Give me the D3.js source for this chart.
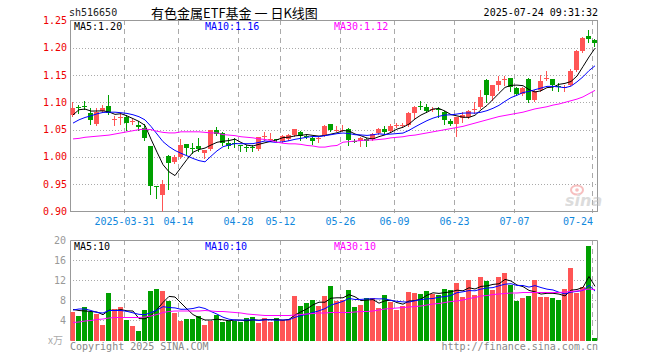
<!DOCTYPE html>
<html><head><meta charset="utf-8">
<script src="https://cdn.jsdelivr.net/npm/d3@7"></script>
<style>
html,body{margin:0;padding:0;background:#fff;}
svg{display:block;}
text{font-family:"DejaVu Sans Mono",monospace;font-size:10px;}
</style></head>
<body>
<svg id="c" width="660" height="360"></svg>
<script>
const dates = ["2025-03-18","2025-03-19","2025-03-20","2025-03-21","2025-03-24","2025-03-25","2025-03-26","2025-03-27","2025-03-28","2025-03-31",
"2025-04-01","2025-04-02","2025-04-03","2025-04-07","2025-04-08","2025-04-09","2025-04-10","2025-04-11","2025-04-14","2025-04-15","2025-04-16","2025-04-17","2025-04-18","2025-04-21","2025-04-22","2025-04-23","2025-04-24","2025-04-25","2025-04-28","2025-04-29","2025-04-30",
"2025-05-06","2025-05-07","2025-05-08","2025-05-09","2025-05-12","2025-05-13","2025-05-14","2025-05-15","2025-05-16","2025-05-19","2025-05-20","2025-05-21","2025-05-22","2025-05-23","2025-05-26","2025-05-27","2025-05-28","2025-05-29","2025-05-30",
"2025-06-03","2025-06-04","2025-06-05","2025-06-06","2025-06-09","2025-06-10","2025-06-11","2025-06-12","2025-06-13","2025-06-16","2025-06-17","2025-06-18","2025-06-19","2025-06-20","2025-06-23","2025-06-24","2025-06-25","2025-06-26","2025-06-27","2025-06-30",
"2025-07-01","2025-07-02","2025-07-03","2025-07-04","2025-07-07","2025-07-08","2025-07-09","2025-07-10","2025-07-11","2025-07-14","2025-07-15","2025-07-16","2025-07-17","2025-07-18","2025-07-21","2025-07-22","2025-07-23","2025-07-24"];

const opens = [1.077,1.092,1.093,1.080,1.061,1.085,1.094,1.069,1.072,1.073,
1.064,1.058,1.053,1.020,0.946,0.931,1.002,0.991,1.000,1.023,1.017,1.020,1.008,1.015,1.050,1.044,1.026,1.026,1.021,1.018,1.019,
1.014,1.038,1.032,1.032,1.029,1.032,1.040,1.046,1.039,1.034,1.033,1.039,1.061,1.049,1.049,1.052,1.030,1.030,1.033,
1.033,1.043,1.051,1.047,1.058,1.058,1.059,1.081,1.094,1.091,1.087,1.087,1.083,1.065,1.061,1.071,1.073,1.087,1.091,1.141,
1.112,1.131,1.141,1.145,1.126,1.116,1.143,1.105,1.122,1.144,1.142,1.130,1.128,1.132,1.159,1.195,1.221,1.215];
const closes = [1.089,1.090,1.092,1.067,1.083,1.090,1.080,1.070,1.073,1.063,
1.065,1.054,1.034,0.947,0.944,0.950,0.989,0.999,1.022,1.017,1.016,1.014,1.012,1.050,1.042,1.026,1.020,1.025,1.020,1.017,1.018,
1.036,1.039,1.033,1.031,1.038,1.040,1.051,1.038,1.038,1.030,1.034,1.057,1.050,1.050,1.050,1.031,1.029,1.034,1.029,
1.042,1.052,1.045,1.057,1.059,1.059,1.081,1.092,1.093,1.085,1.088,1.086,1.068,1.061,1.073,1.076,1.084,1.088,1.110,1.114,
1.131,1.140,1.142,1.129,1.116,1.126,1.104,1.120,1.140,1.145,1.131,1.129,1.129,1.157,1.195,1.218,1.217,1.209];
const highs = [1.100,1.095,1.103,1.089,1.089,1.095,1.113,1.075,1.080,1.077,
1.070,1.065,1.061,1.020,0.947,0.957,1.003,1.004,1.033,1.024,1.025,1.034,1.012,1.050,1.055,1.046,1.034,1.034,1.022,1.021,1.021,
1.037,1.046,1.043,1.033,1.040,1.042,1.052,1.047,1.042,1.037,1.036,1.058,1.061,1.057,1.059,1.053,1.032,1.036,1.034,
1.043,1.053,1.056,1.061,1.062,1.063,1.083,1.093,1.102,1.097,1.092,1.091,1.085,1.069,1.074,1.083,1.086,1.100,1.123,1.142,
1.131,1.148,1.149,1.145,1.128,1.128,1.144,1.122,1.151,1.158,1.143,1.135,1.131,1.161,1.196,1.219,1.232,1.216];
const lows = [1.075,1.081,1.087,1.060,1.059,1.083,1.079,1.059,1.060,1.050,
1.060,1.050,1.031,0.932,0.924,0.900,0.942,0.989,0.998,1.006,1.008,1.010,0.998,1.013,1.040,1.022,1.016,1.018,1.011,1.011,1.011,
1.013,1.031,1.032,1.029,1.027,1.031,1.039,1.031,1.035,1.023,1.028,1.038,1.047,1.047,1.047,1.022,1.027,1.020,1.020,
1.031,1.042,1.043,1.046,1.054,1.054,1.057,1.072,1.087,1.082,1.084,1.073,1.061,1.058,1.039,1.064,1.071,1.080,1.090,1.100,
1.104,1.123,1.131,1.121,1.114,1.114,1.100,1.103,1.120,1.141,1.122,1.121,1.120,1.131,1.157,1.193,1.210,1.204];

const ma5 = [1.077,1.0865,1.0877,1.084,1.0842,1.0844,1.0824,1.078,1.0792,1.0752,1.0702,1.065,1.0578,1.0326,1.0088,0.9858,0.9728,0.9658,0.9808,0.9954,1.0086,1.0136,1.0162,1.0218,1.0268,1.0288,1.030,1.0326,1.0266,1.0216,1.020,1.0232,1.026,1.0286,1.0314,1.0354,1.0362,1.0386,1.0396,1.041,1.0394,1.0382,1.0394,1.0418,1.0442,1.0482,1.0476,1.042,1.0388,1.0346,1.033,1.0372,1.0404,1.045,1.051,1.0544,1.0602,1.0696,1.0768,1.082,1.0878,1.0888,1.084,1.0776,1.0752,1.0728,1.0724,1.0764,1.0862,1.0944,1.1054,1.1166,1.1274,1.1312,1.1316,1.1306,1.1234,1.119,1.1212,1.127,1.128,1.133,1.1348,1.1382,1.1482,1.1656,1.1832,1.1992];
const ma10 = [1.062,1.068,1.0723,1.0754,1.079,1.0815,1.082,1.082,1.081,1.0797,1.0773,1.0737,1.0679,1.0559,1.042,1.028,1.0189,1.0118,1.0067,1.0021,0.9972,0.9932,0.991,1.0013,1.0111,1.0187,1.0218,1.0244,1.0242,1.0242,1.0244,1.0266,1.0293,1.0276,1.0265,1.0277,1.0297,1.0323,1.0341,1.0362,1.0374,1.0372,1.039,1.0407,1.0426,1.0438,1.0429,1.0407,1.0403,1.0394,1.0406,1.0424,1.0412,1.0419,1.0428,1.0437,1.0487,1.055,1.0609,1.0665,1.0711,1.0745,1.0768,1.0772,1.0786,1.0803,1.0806,1.0802,1.0819,1.0848,1.0891,1.0945,1.1019,1.1087,1.113,1.118,1.12,1.1232,1.1262,1.1293,1.1293,1.1282,1.1269,1.1297,1.1376,1.1468,1.1581,1.167];
const ma30 = [1.033,1.034,1.036,1.037,1.038,1.039,1.040,1.042,1.044,1.046,1.048,1.050,1.051,1.050,1.047,1.045,1.044,1.044,1.046,1.046,1.046,1.046,1.045,1.044,1.044,1.041,1.040,1.039,1.037,1.036,1.035,1.033,1.032,1.030,1.027,1.025,1.024,1.024,1.023,1.021,1.020,1.018,1.018,1.020,1.021,1.027,1.028,1.029,1.030,1.031,1.031,1.032,1.033,1.035,1.036,1.037,1.039,1.040,1.042,1.044,1.046,1.048,1.050,1.052,1.054,1.056,1.059,1.062,1.065,1.068,1.071,1.074,1.076,1.078,1.080,1.082,1.085,1.088,1.090,1.092,1.095,1.097,1.100,1.103,1.106,1.110,1.116,1.122];

const volumes = [5.8,4.9,6.7,5.8,5.3,3.1,9.5,6.3,6.7,4.1,2.9,1.9,6.1,9.9,10.3,9.9,7.9,5.5,3.9,4.3,4.3,4.9,3.1,3.9,5.1,3.7,3.9,3.9,3.7,4.5,4.7,3.5,4.5,3.7,4.5,4.1,4.3,8.9,6.9,7.5,8.1,6.9,8.9,10.9,7.9,8.1,10.1,6.7,7.1,8.5,8.5,6.5,9.1,7.7,6.1,6.9,9.7,9.5,9.3,9.9,9.3,9.1,10.3,10.1,11.5,8.7,12.1,9.1,12.7,12.0,10.2,12.7,13.5,11.1,8.0,8.6,8.9,12.1,8.8,8.8,8.6,8.1,10.3,14.5,9.5,10.7,19.0,0.5];
const volMa5 = [6.2,6.0,5.9,5.8,5.70,5.16,6.08,6.00,6.18,5.94,5.90,4.38,4.34,4.98,6.22,7.62,8.82,8.70,7.50,6.30,5.18,4.58,4.10,4.10,4.26,4.14,3.94,4.10,4.06,3.94,4.14,4.06,4.18,4.18,4.18,4.06,4.22,5.10,5.74,6.34,7.14,7.66,7.66,8.46,8.54,8.54,9.18,8.74,7.98,8.10,8.18,7.46,7.94,8.06,7.58,7.26,7.90,7.98,8.30,9.06,9.54,9.42,9.58,9.74,10.06,9.94,10.54,10.30,10.82,10.92,11.22,11.34,12.22,11.90,11.10,10.78,10.02,9.74,9.28,9.44,9.44,9.28,8.92,10.06,10.20,10.62,12.80,10.84];
const volMa10 = [6.1,6.3,6.3,6.0,5.6,5.5,6.0,6.0,6.0,5.82,5.53,5.23,5.17,5.58,6.08,6.76,6.60,6.52,6.24,6.26,6.40,6.70,6.40,5.80,5.28,4.66,4.26,4.10,4.08,4.10,4.14,4.00,4.14,4.12,4.06,4.10,4.14,4.64,4.96,5.26,5.60,5.94,6.38,7.10,7.44,7.84,8.42,8.20,8.22,8.32,8.36,8.32,8.34,8.02,7.84,7.72,7.68,7.96,8.18,8.32,8.40,8.66,8.78,9.02,9.56,9.74,9.98,9.94,10.28,10.49,10.58,10.94,11.26,11.36,11.01,11.00,10.68,10.98,10.59,10.27,10.11,9.65,9.33,9.67,9.82,10.03,11.04,9.88];
const volMa30 = [3.6,3.7,3.9,4.0,4.2,4.3,4.5,4.6,4.6,4.6,4.6,4.6,4.7,4.9,5.2,5.6,5.8,5.9,5.9,5.9,5.9,5.9,6.0,5.9,5.8,5.8,5.7,5.6,5.5,5.3,5.2,5.1,5.0,5.0,5.0,5.0,5.0,5.1,5.2,5.3,5.4,5.5,5.5,5.6,5.6,5.6,5.6,5.7,5.8,5.8,5.9,6.1,6.3,6.4,6.5,6.6,6.7,6.8,6.9,7.1,7.3,7.4,7.6,7.8,7.9,8.1,8.4,8.6,8.9,9.0,9.2,9.3,9.4,9.5,9.5,9.6,9.6,9.6,9.6,9.6,9.6,9.6,9.7,9.8,9.9,10.1,10.3,10.2];

const priceTicks = [0.90,0.95,1.00,1.05,1.10,1.15,1.20,1.25];
const volTicks = [4,8,12,16,20];
const dateTicks = ["2025-03-31","2025-04-14","2025-04-28","2025-05-12","2025-05-26","2025-06-09","2025-06-23","2025-07-07","2025-07-24"];
const dateTickLabels = ["2025-03-31","04-14","04-28","05-12","05-26","06-09","06-23","07-07","07-24"];
const priceLegend = ["MA5:1.20","MA10:1.16","MA30:1.12"];
const volLegend = ["MA5:10","MA10:10","MA30:10"];
const symbol = "sh516650";
const title = "有色金属ETF基金 一 日K线图";
const stamp = "2025-07-24 09:31:32";

const RED = "#ff5555", GREEN = "#00a000", GRID = "#aaaaaa", BORDER = "#999999";
const maColors = ["#000000","#0000ff","#ff00ff"];

const L = 70, R = 597, PT = 20, PB = 211, VT = 240, VB = 340;
const svg = d3.select("#c");

const x = d3.scaleBand().domain(dates).range([L, L + 6*dates.length]).paddingInner(1/6).paddingOuter(1/12);
const bw = x.bandwidth();
const yP = d3.scaleLinear().domain([0.90, 1.25]).range([PB + 0.5, PT + 0.5]);
const yV = d3.scaleLinear().domain([0, 20]).range([VB + 0.5, VT + 0.5]);

const defs = svg.append("defs");
defs.append("clipPath").attr("id","cp").append("rect").attr("x",L+0.5).attr("y",PT+0.5).attr("width",R-L).attr("height",PB-PT);
defs.append("clipPath").attr("id","cv").append("rect").attr("x",L+0.5).attr("y",VT+0.5).attr("width",R-L).attr("height",VB-VT+1);

// header
svg.append("text").attr("x",L - 1).attr("y",16).attr("fill","#222").text(symbol);
svg.append("text").attr("x",151).attr("y",18).attr("fill","#000")
  .style("font-family","'Noto Sans CJK SC',sans-serif").style("font-size","13px").text(title);
svg.append("text").attr("x",R+1).attr("y",16).attr("text-anchor","end").attr("fill","#000").text(stamp);

// grid: horizontal dotted
const gP = svg.append("g");
gP.selectAll("line.h").data(priceTicks.filter(t => t > 0.91 && t < 1.24)).join("line")
  .attr("x1",L).attr("x2",R).attr("y1",d => Math.round(yP(d)) + 0.5).attr("y2",d => Math.round(yP(d)) + 0.5)
  .attr("stroke",GRID).attr("stroke-dasharray","1,2");
const gV = svg.append("g");
gV.selectAll("line.h").data([0].concat(volTicks.filter(t => t < 20))).join("line")
  .attr("x1",L).attr("x2",R).attr("y1",d => Math.round(yV(d)) - 0.5 + (d===0?-1:0)).attr("y2",d => Math.round(yV(d)) - 0.5 + (d===0?-1:0))
  .attr("stroke",GRID).attr("stroke-dasharray","1,2");

// vertical dashed grid
const vx = d => Math.floor(x(d)) + 0.5;
[[PT, PB + 2], [VT, VB]].forEach(([a,b]) => {
  svg.append("g").selectAll("line").data(dateTicks).join("line")
    .attr("x1",vx).attr("x2",vx).attr("y1",a).attr("y2",b)
    .attr("stroke",GRID).attr("stroke-dasharray","5,4");
});

// borders
svg.append("rect").attr("x",L+0.5).attr("y",PT+0.5).attr("width",R-L).attr("height",PB-PT)
  .attr("fill","none").attr("stroke",BORDER);
svg.append("path").attr("d",`M${L+0.5},${VB+0.5}V${VT+0.5}H${R+0.5}V${VB+0.5}`)
  .attr("fill","none").attr("stroke",BORDER);

// price axis labels
svg.append("g").selectAll("text").data(priceTicks).join("text")
  .attr("x",67).attr("y",d => yP(d) + 3.5).attr("text-anchor","end").attr("fill","#ee0000")
  .text(d => d.toFixed(2));
// volume axis labels
svg.append("g").selectAll("text").data(volTicks).join("text")
  .attr("x",66).attr("y",d => yV(d) + 3.5).attr("text-anchor","end").attr("fill","#999")
  .text(d => d);
svg.append("text").attr("x",63).attr("y",VB + 4).attr("text-anchor","end").attr("fill","#aaa")
  .style("font-family","'Noto Sans CJK SC',sans-serif").style("font-size","10px").text("x万");

// date labels
svg.append("g").selectAll("text").data(dateTicks).join("text")
  .attr("x",(d,i) => i === dateTicks.length-1 ? R - 4 : x(d))
  .attr("y",225).attr("text-anchor",(d,i) => i === dateTicks.length-1 ? "end" : "middle")
  .attr("fill","#1188dd").text((d,i) => dateTickLabels[i]);

// candles
const data = dates.map((d,i) => ({d, o:opens[i], c:closes[i], h:highs[i], l:lows[i], v:volumes[i]}));
const gc = svg.append("g").attr("clip-path","url(#cp)").attr("shape-rendering","crispEdges");
const cx = d => Math.floor(x(d.d)) + 2.5;
gc.selectAll("line.w").data(data).join("line")
  .attr("x1",cx).attr("x2",cx).attr("y1",d => Math.round(yP(d.h))).attr("y2",d => Math.round(yP(d.l)) + 1)
  .attr("stroke",d => d.c >= d.o ? RED : GREEN);
gc.selectAll("rect").data(data).join("rect")
  .attr("x",d => Math.floor(x(d.d))).attr("width",Math.round(bw))
  .attr("y",d => Math.round(yP(Math.max(d.o,d.c))))
  .attr("height",d => Math.max(1, Math.round(yP(Math.min(d.o,d.c))) - Math.round(yP(Math.max(d.o,d.c)))))
  .attr("fill",d => d.c >= d.o ? RED : GREEN);

// MA lines price
const gm = svg.append("g").attr("clip-path","url(#cp)");
[ma5, ma10, ma30].forEach((arr,k) => {
  const line = d3.line().x((v,i) => x(dates[i]) + 2.5).y(v => yP(v));
  gm.append("path").attr("d",line(arr)).attr("fill","none").attr("stroke",maColors[k]).attr("stroke-width",1);
});

// volume bars
const gvb = svg.append("g").attr("clip-path","url(#cv)").attr("shape-rendering","crispEdges");
gvb.selectAll("rect").data(data).join("rect")
  .attr("x",d => Math.floor(x(d.d))).attr("width",Math.round(bw))
  .attr("y",d => Math.round(yV(d.v))).attr("height",d => VB + 1 - Math.round(yV(d.v)))
  .attr("fill",d => d.c >= d.o ? RED : GREEN);
const gvm = svg.append("g").attr("clip-path","url(#cv)");
[volMa5, volMa10, volMa30].forEach((arr,k) => {
  const line = d3.line().x((v,i) => x(dates[i]) + 2.5).y(v => yV(v));
  gvm.append("path").attr("d",line(arr)).attr("fill","none").attr("stroke",maColors[k]).attr("stroke-width",1);
});

// legends
const legX = [74, 205, 334];
svg.append("g").selectAll("text").data(priceLegend).join("text")
  .attr("x",(d,i) => legX[i]).attr("y",30).attr("fill",(d,i) => maColors[i]).text(d => d);
svg.append("g").selectAll("text").data(volLegend).join("text")
  .attr("x",(d,i) => legX[i]).attr("y",250).attr("fill",(d,i) => maColors[i]).text(d => d);

// footer
svg.append("text").attr("x",L).attr("y",350).attr("fill","#888").text("Copyright 2025 SINA.COM");
svg.append("text").attr("x",R + 1).attr("y",350).attr("text-anchor","end").attr("fill","#888").text("http://finance.sina.com.cn");

// sina watermark
const wm = svg.append("g").attr("opacity",0.5);
wm.append("ellipse").attr("cx",577).attr("cy",190).attr("rx",6).attr("ry",4.5).attr("fill","none").attr("stroke","#f08080").attr("stroke-width",2);
wm.append("circle").attr("cx",577).attr("cy",190).attr("r",1.8).attr("fill","#f08080");
wm.append("text").attr("x",565).attr("y",206).attr("fill","#bbb")
  .style("font-family","'DejaVu Sans',sans-serif").style("font-size","16px").style("font-style","italic").style("font-weight","bold").text("sina");
</script>
</body></html>
